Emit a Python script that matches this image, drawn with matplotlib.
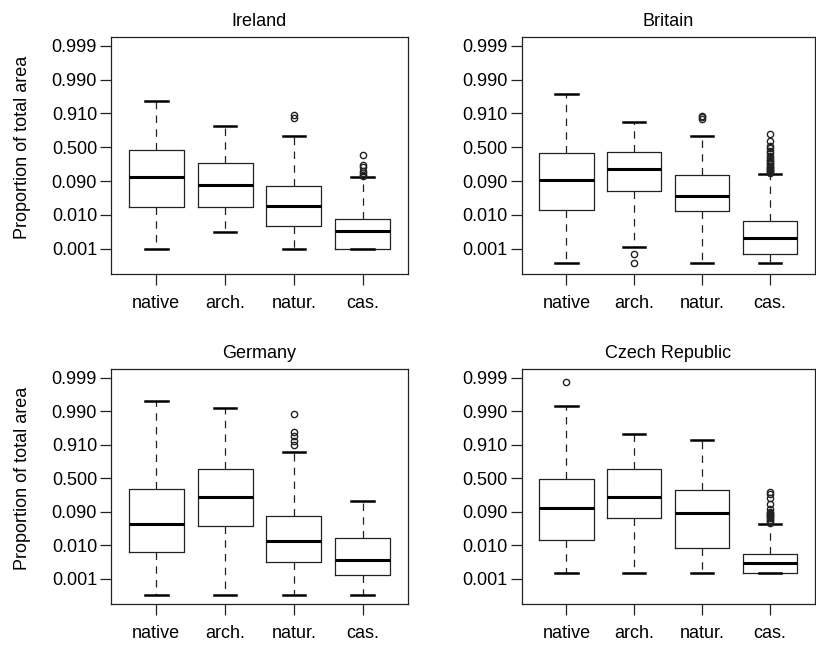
import matplotlib
matplotlib.use('Agg')
import matplotlib.pyplot as plt
from matplotlib.ticker import NullLocator

plt.rcParams['font.family'] = ['Liberation Sans', 'DejaVu Sans']
plt.rcParams['font.size'] = 13

# box classes and regions
categories = ['native', 'arch.', 'natur.', 'cas.']
regions = ['Ireland', 'Britain', 'Germany', 'Czech Republic']

# boxplot stats per region (rows) and class (columns), proportion of total area
whis_low = [
    [0.001, 0.0031, 0.001, 0.001],
    [0.000378, 0.00109, 0.000378, 0.000378],
    [0.000339, 0.000339, 0.000339, 0.000339],
    [0.00153, 0.00153, 0.00153, 0.00153],
]
quart1 = [
    [0.0171, 0.0171, 0.00477, 0.001],
    [0.0140, 0.0479, 0.0125, 0.000695],
    [0.00616, 0.0365, 0.00318, 0.00134],
    [0.01456, 0.0615, 0.00827, 0.00153],
]
medians = [
    [0.120, 0.0733, 0.0174, 0.00324],
    [0.0962, 0.187, 0.0353, 0.00206],
    [0.0416, 0.213, 0.0130, 0.00365],
    [0.1129, 0.213, 0.0846, 0.00291],
]
quart3 = [
    [0.449, 0.256, 0.0660, 0.00729],
    [0.399, 0.427, 0.1298, 0.00651],
    [0.320, 0.650, 0.0685, 0.0160],
    [0.494, 0.650, 0.3146, 0.00537],
]
whis_high = [
    [0.959, 0.813, 0.679, 0.115],
    [0.9746, 0.848, 0.679, 0.143],
    [0.99509, 0.99228, 0.862, 0.177],
    [0.99295, 0.9536, 0.9315, 0.0407],
]
outliers = [
    [[], [], [0.880, 0.900],
     [0.125, 0.135, 0.146, 0.17, 0.204, 0.227, 0.373]],
    [[], [0.000378, 0.000712], [0.875, 0.885, 0.892],
     [0.15, 0.16, 0.17, 0.18, 0.19, 0.2, 0.21, 0.22, 0.24, 0.26, 0.28, 0.3,
      0.33, 0.36, 0.4, 0.44, 0.48, 0.52, 0.61, 0.71]],
    [[], [], [0.906, 0.9286, 0.947, 0.961, 0.9884], []],
    [[0.99866], [], [],
     [0.045, 0.05, 0.055, 0.06, 0.065, 0.07, 0.075, 0.08, 0.085, 0.09,
      0.11, 0.15, 0.2, 0.25, 0.286]],
]

ytick_vals = [0.001, 0.01, 0.09, 0.5, 0.91, 0.99, 0.999]
ytick_labels = ['0.001', '0.010', '0.090', '0.500', '0.910', '0.990', '0.999']

fig = plt.figure(figsize=(8.16, 6.46), dpi=100)

# axes rectangles (left, bottom, width, height) in figure fraction
rects = [
    [0.136, 0.5754, 0.364, 0.3669],
    [0.6393, 0.5754, 0.359, 0.3669],
    [0.136, 0.0646, 0.364, 0.3638],
    [0.6393, 0.0646, 0.359, 0.3638],
]

edge = '#222222'

for i, region in enumerate(regions):
    ax = fig.add_axes(rects[i])
    stats = []
    for j, cat in enumerate(categories):
        stats.append({
            'whislo': whis_low[i][j], 'q1': quart1[i][j], 'med': medians[i][j],
            'q3': quart3[i][j], 'whishi': whis_high[i][j],
            'fliers': outliers[i][j], 'label': cat,
        })
    ax.set_yscale('logit')
    ax.bxp(stats, positions=[1, 2, 3, 4], widths=0.8, capwidths=0.33,
           boxprops=dict(color=edge, linewidth=0.9),
           medianprops=dict(color='black', linewidth=2.2),
           whiskerprops=dict(color=edge, linewidth=0.9, linestyle=(0, (6, 5))),
           capprops=dict(color='black', linewidth=1.8),
           flierprops=dict(marker='o', markersize=4.5, markerfacecolor='none',
                           markeredgecolor=edge, markeredgewidth=1.0))
    ax.set_xlim(0.34, 4.66)
    ax.set_ylim(0.000175, 0.99944)
    ax.set_yticks(ytick_vals)
    ax.set_yticklabels(ytick_labels)
    ax.yaxis.set_minor_locator(NullLocator())
    ax.set_xticks([1, 2, 3, 4])
    ax.set_xticklabels(categories)
    ax.tick_params(axis='both', direction='out', length=8, width=0.9, color=edge)
    ax.tick_params(axis='y', pad=2)
    ax.tick_params(axis='x', pad=7)
    for s in ax.spines.values():
        s.set_linewidth(0.9)
        s.set_color(edge)
    ax.set_title(region, fontsize=13, pad=8)
    if i % 2 == 0:
        ax.set_ylabel('Proportion of total area')
        ax.yaxis.set_label_coords(-0.27, 0.535)

fig.savefig('out.png', dpi=100)
